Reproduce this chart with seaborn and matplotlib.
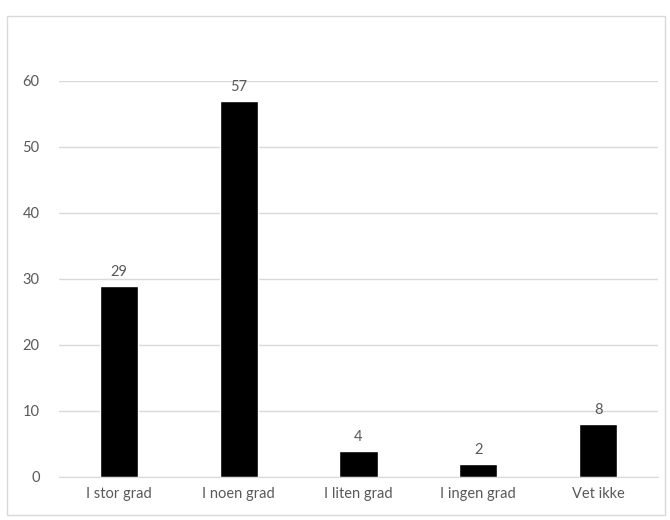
import matplotlib
matplotlib.use("Agg")
import matplotlib.pyplot as plt
import seaborn as sns
import pandas as pd
from matplotlib.patches import Rectangle

kategorier = ['I stor grad', 'I noen grad', 'I liten grad', 'I ingen grad', 'Vet ikke']
verdier = [29, 57, 4, 2, 8]
yticks = [0, 10, 20, 30, 40, 50, 60]

df = pd.DataFrame({'kategori': kategorier, 'verdi': verdier})

sns.set_style('white')
plt.rcParams['font.family'] = ['Lato', 'DejaVu Sans']
tekst = '#595959'

fig = plt.figure(figsize=(6.7, 5.2), dpi=100)
ax = fig.add_axes([59/670, 1 - 477/520, 599/670, (477-81)/520])

sns.barplot(data=df, x='kategori', y='verdi', color='black', width=0.32,
            saturation=1, ax=ax)

ax.set_ylim(0, 60)
ax.set_yticks(yticks)
ax.yaxis.grid(True, color='#d9d9d9', linewidth=1)
ax.set_axisbelow(True)
for s in ['top', 'right', 'left']:
    ax.spines[s].set_visible(False)
ax.spines['bottom'].set_color('#d9d9d9')
ax.tick_params(axis='both', length=0, labelsize=10.5, colors=tekst)
ax.tick_params(axis='y', pad=14)
ax.tick_params(axis='x', pad=7)
ax.set_xlabel('')
ax.set_ylabel('')

for c in ax.containers:
    ax.bar_label(c, labels=[str(v) for v in verdier], padding=5, fontsize=10.5, color=tekst)

# ramme rundt hele figuren
fig.patches.append(Rectangle((7/670, 5/520), 658/670, 499/520, transform=fig.transFigure,
                             fill=False, edgecolor='#d9d9d9', linewidth=1))

fig.savefig('out.png', dpi=100)
